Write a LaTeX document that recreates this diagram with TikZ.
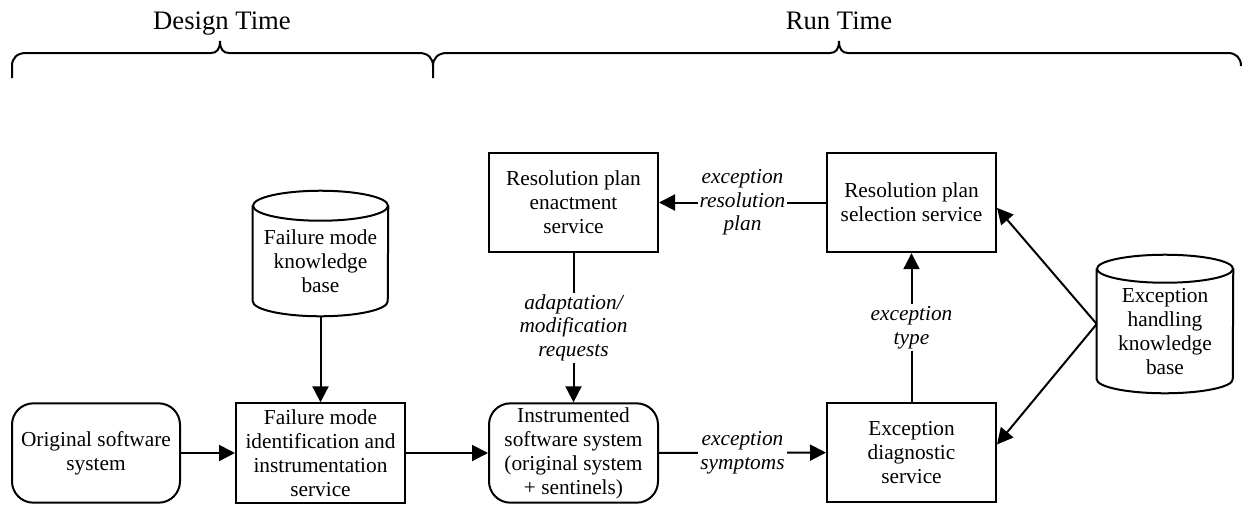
\documentclass[tikz,border=0pt]{standalone}
\usepackage{fontspec}
\setmainfont{Liberation Serif}
\usetikzlibrary{arrows.meta}
\tikzset{
  ln/.style={line width=1.5pt},
  box/.style={ln, draw, minimum width=126.75pt, minimum height=74.5pt, inner sep=0pt, align=center, font=\fontsize{16}{18}\selectfont},
  rbox/.style={box, rounded corners=16pt},
  cylbody/.style={inner sep=0pt},
  txt/.style={align=center, inner sep=0pt, font=\fontsize{16}{18}\selectfont},
  lab/.style={fill=white, inner sep=1.5pt, align=center, font=\fontsize{16}{17.6}\selectfont\itshape},
  ttl/.style={anchor=base, inner sep=0pt, font=\fontsize{20}{24}\selectfont},
  arr/.style={ln, -{Triangle[length=12pt,width=12pt]}},
}
\newcommand\mycyl[3]{% name, rx (pt), ry (pt)
  \draw[ln] ([yshift=-#3]#1.north west) -- ([yshift=#3]#1.south west)
     arc[start angle=180,end angle=360,x radius=#2,y radius=#3]
     -- ([yshift=-#3]#1.north east);
  \draw[ln] ([yshift=-#3]#1.north) ellipse[x radius=#2,y radius=#3];
}
\begin{document}
\begin{tikzpicture}[x=0.75pt,y=-0.75pt]
\useasboundingbox (0,0) rectangle (1243,504);
% braces
\draw[ln] (12,78) -- (12,66) .. controls (12,58) and (17,53) .. (26,53) -- (211,53)
  .. controls (217,53) and (220,49) .. (220,41) .. controls (220,49) and (223,53) .. (229,53)
  -- (419,53) .. controls (428,53) and (433,58) .. (433,66) -- (433,78);
\draw[ln] (433,66) .. controls (433,58) and (438,53) .. (447,53) -- (830,53)
  .. controls (836,53) and (839,49) .. (839,41) .. controls (839,49) and (842,53) .. (848,53)
  -- (1228,53) .. controls (1236,53) and (1241,58) .. (1241,66);
\node[ttl] (dt) at (222,29) {Design Time};
\node[ttl] (rt) at (839,29) {Run Time};
% nodes
\node[rbox, minimum width=126pt] (orig) at (96,453) {Original software\\system};
\node[box] (fmis) at (320.5,453) {Failure mode\\identification and\\instrumentation\\service};
\node[rbox] (inst) at (573.5,453) {Instrumented\\software system\\(original system\\+ sentinels)};
\node[box] (enact) at (573.5,202.5) {Resolution plan\\enactment\\service};
\node[box] (sel) at (911.5,202.5) {Resolution plan\\selection service};
\node[box] (diag) at (911.5,452.5) {Exception\\diagnostic\\service};
% cylinders
\node[cylbody, minimum width=101.25pt, minimum height=93.75pt] (fkb) at (320.5,253.5) {};
\mycyl{fkb}{50.625pt}{11.25pt}
\node[txt] (fkbt) at (320.5,261) {Failure mode\\knowledge\\base};
\node[cylbody, minimum width=102pt, minimum height=103.5pt] (ekb) at (1165,324) {};
\mycyl{ekb}{51pt}{10.5pt}
\node[txt] (ekbt) at (1165,331.5) {Exception\\handling\\knowledge\\base};
% connectors
\draw[arr] (orig) -- (fmis);
\draw[arr] (fmis) -- (inst);
\draw[arr] (fkb.south) -- (fmis.north);
\draw[arr] (enact) -- node[lab] {adaptation/\\modification\\requests} (inst);
\draw[arr] (inst) -- node[lab] {exception\\symptoms} (diag);
\draw[arr] (diag) -- node[lab] {exception\\type} (sel);
\draw[arr] (sel) -- node[lab] {exception\\resolution\\plan} (enact);
\draw[arr] (ekb.west) -- ([yshift=-4pt]sel.east);
\draw[arr] (ekb.west) -- ([yshift=6pt]diag.east);
\end{tikzpicture}
\end{document}
